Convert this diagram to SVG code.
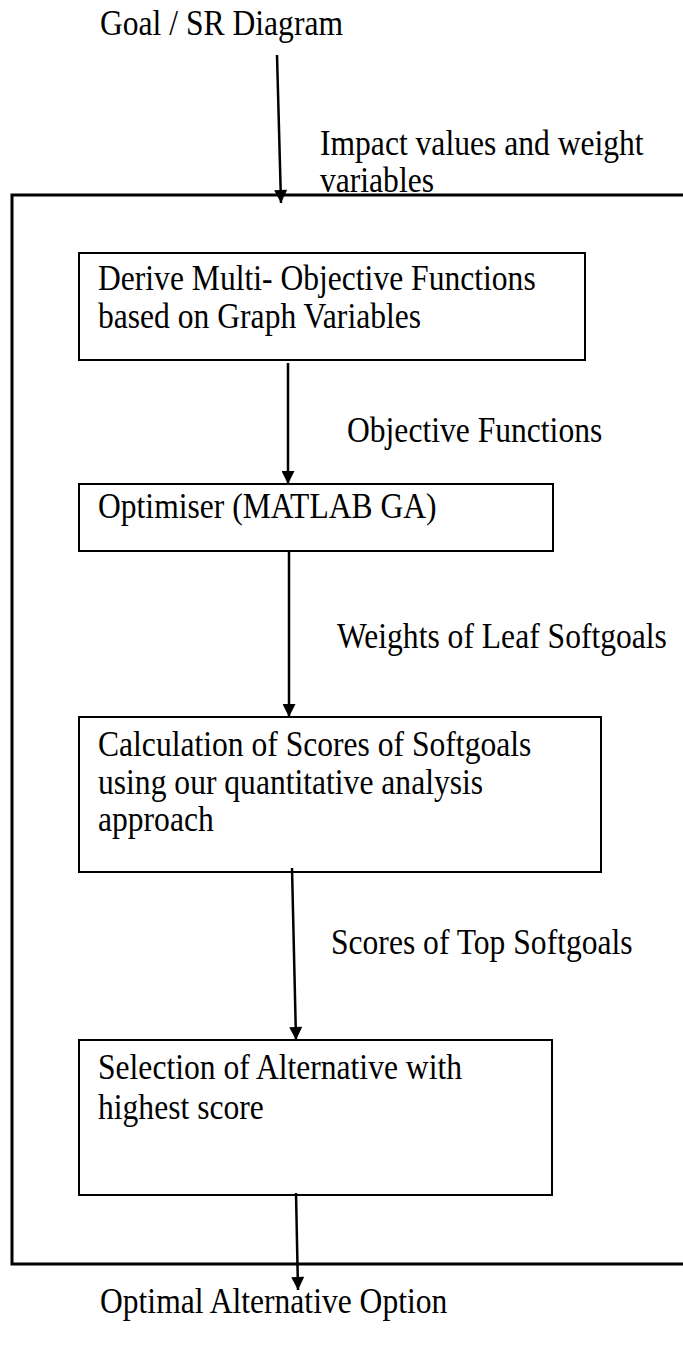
<svg xmlns="http://www.w3.org/2000/svg" width="683" height="1346" viewBox="0 0 683 1346">
  <defs>
    <marker id="arrow" viewBox="0 0 10 10" refX="10" refY="5" markerWidth="15" markerHeight="13" markerUnits="userSpaceOnUse" orient="auto">
      <path d="M0,0 L10,5 L0,10 Z" fill="#000"/>
    </marker>
    <style>
      text { font-family: "Liberation Serif", "Times New Roman", serif; font-size: 31.6px; fill: #000; }
      .box { fill: #fff; stroke: #000; stroke-width: 2; }
      .frame { fill: none; stroke: #000; stroke-width: 3; }
      .link { fill: none; stroke: #000; stroke-width: 2.5; marker-end: url(#arrow); }
    </style>
  </defs>
  <rect width="683" height="1346" fill="#fff"/>

  <!-- outer process frame, open on the right edge -->
  <path class="frame" d="M690,195 H12 V1264 H690"/>

  <g id="input">
    <g transform="translate(100,35) scale(1,1.12)"><text>Goal / SR Diagram</text></g>
  </g>

  <g id="derive">
    <rect class="box" x="79" y="253" width="506" height="107"/>
    <g transform="translate(98,290) scale(1,1.12)"><text>Derive Multi- Objective Functions</text></g>
    <g transform="translate(98,328) scale(1,1.12)"><text>based on Graph Variables</text></g>
  </g>

  <g id="optimiser">
    <rect class="box" x="79" y="484" width="474" height="67"/>
    <g transform="translate(98,518) scale(1,1.12)"><text>Optimiser (MATLAB GA)</text></g>
  </g>

  <g id="calculation">
    <rect class="box" x="79" y="717" width="522" height="155"/>
    <g transform="translate(98,756) scale(1,1.12)"><text>Calculation of Scores of Softgoals</text></g>
    <g transform="translate(98,794) scale(1,1.12)"><text>using our quantitative analysis</text></g>
    <g transform="translate(98,831) scale(1,1.12)"><text>approach</text></g>
  </g>

  <g id="selection">
    <rect class="box" x="79" y="1040" width="473" height="155"/>
    <g transform="translate(98,1079) scale(1,1.12)"><text>Selection of Alternative with</text></g>
    <g transform="translate(98,1119) scale(1,1.12)"><text>highest score</text></g>
  </g>

  <g id="output">
    <g transform="translate(100,1313) scale(1,1.12)"><text>Optimal Alternative Option</text></g>
  </g>

  <g id="connectors">
    <line class="link" x1="277" y1="55" x2="281" y2="203"/>
    <line class="link" x1="288" y1="363" x2="288" y2="484"/>
    <line class="link" x1="289" y1="551" x2="289" y2="717"/>
    <line class="link" x1="292" y1="868" x2="296" y2="1040"/>
    <line class="link" x1="296" y1="1193" x2="298" y2="1290"/>
  </g>

  <g id="labels">
    <g transform="translate(320,155) scale(1,1.12)"><text>Impact values and weight</text></g>
    <g transform="translate(320,192) scale(1,1.12)"><text>variables</text></g>
    <g transform="translate(347,442) scale(1,1.12)"><text>Objective Functions</text></g>
    <g transform="translate(337,648) scale(1,1.12)"><text>Weights of Leaf Softgoals</text></g>
    <g transform="translate(331,954) scale(1,1.12)"><text>Scores of Top Softgoals</text></g>
  </g>
</svg>
